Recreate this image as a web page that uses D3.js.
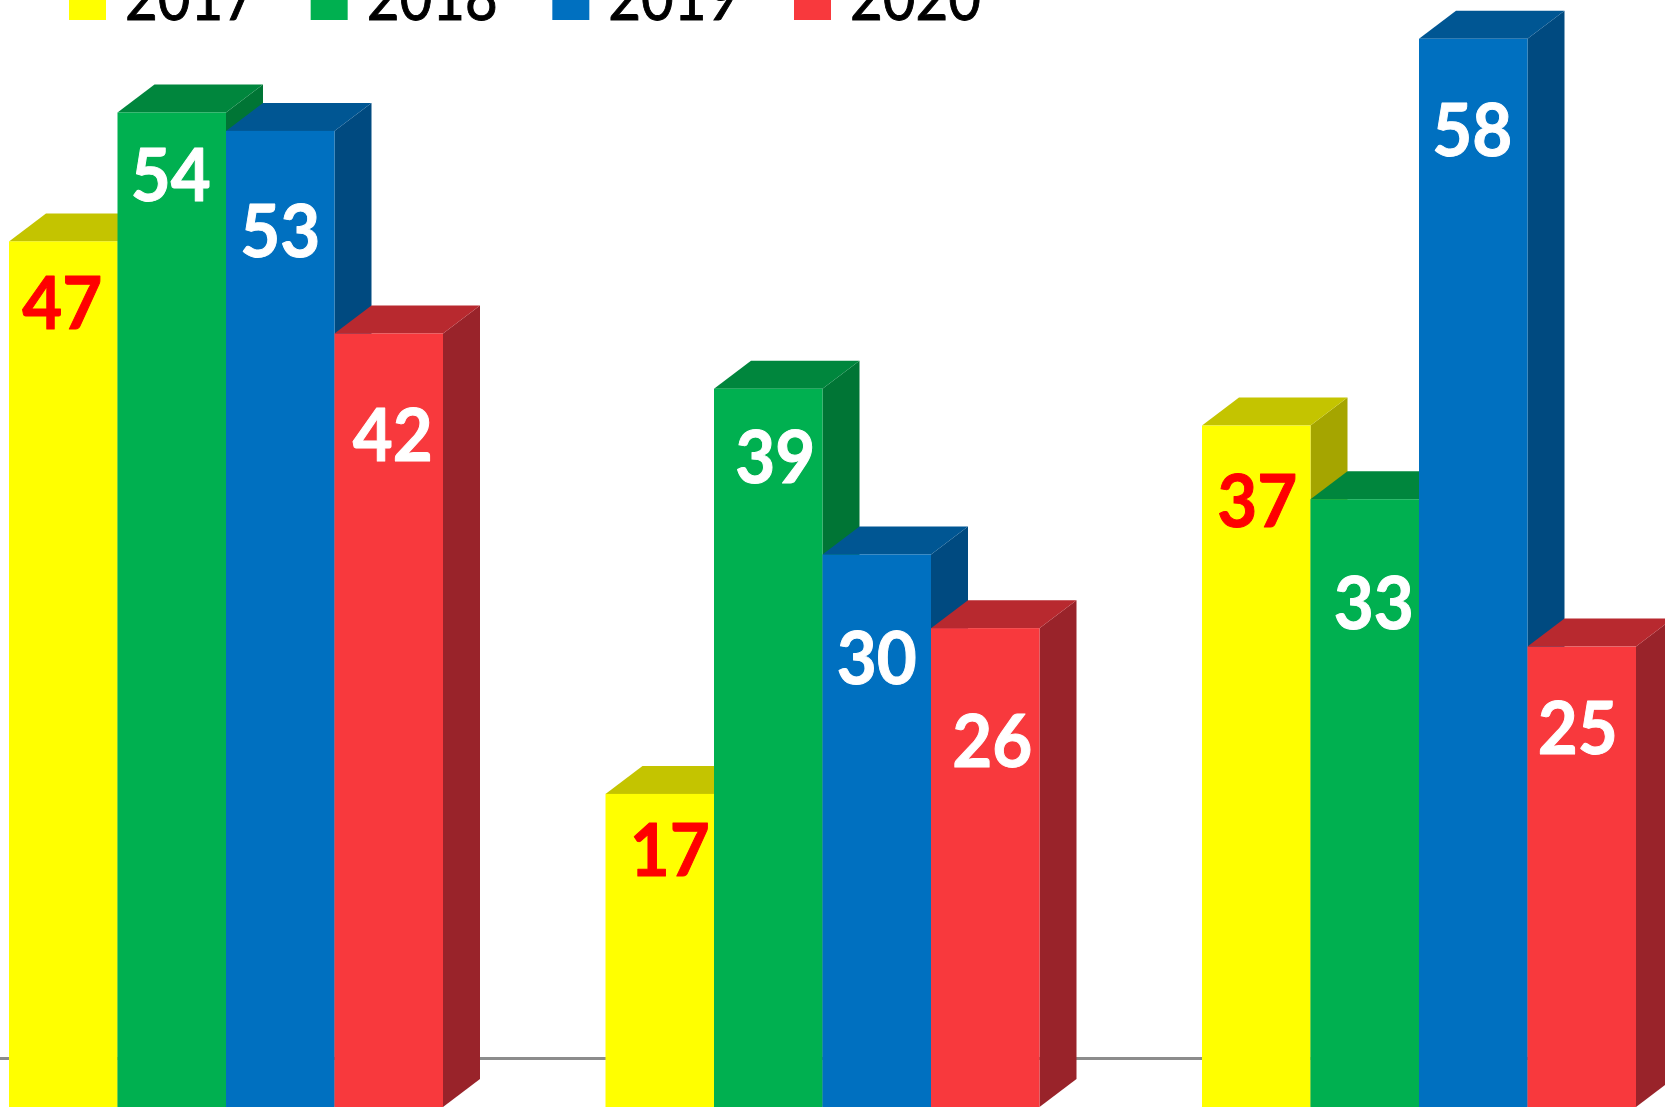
<!DOCTYPE html>
<html><head><meta charset="utf-8">
<script src="https://cdn.jsdelivr.net/npm/d3@7/dist/d3.min.js"></script>
<style>html,body{margin:0;padding:0;background:#fff;overflow:hidden}svg{display:block}</style>
</head><body><div id="c"></div>
<script>
// ---- data ----
const categories = ["A", "B", "C"];
const seriesNames = ["2017", "2018", "2019", "2020"];
const values2017 = [47, 17, 37];
const values2018 = [54, 39, 33];
const values2019 = [53, 30, 58];
const values2020 = [42, 26, 25];
const allValues = [values2017, values2018, values2019, values2020];

// ---- styles ----
const frontColors = ["#FFFF00", "#00B050", "#0070C0", "#F8393D"];
const topColors   = ["#C4C400", "#00863D", "#005693", "#B8292F"];
const sideColors  = ["#A5A500", "#007535", "#004A80", "#99232A"];
const labelColors = ["#FF0000", "#FFFFFF", "#FFFFFF", "#FFFFFF"];

// ---- layout: hand-placed label offsets (px) per series, per category ----
const labelShiftX = [[-1, 10, 1], [-1, 7, 9], [0, 0, -1], [4, 7, -4]];
const labelShiftY = [[61.5, 56, 75], [62.5, 68, 104], [100, 104, 91], [102, 113, 81]];

const W = 1665, H = 1108, depthX = 37, depthY = 28;
const svg = d3.select("#c").append("svg").attr("width", W).attr("height", H).attr("viewBox", [0, 0, W, H]);

const x0 = d3.scalePoint().domain(categories).range([9, 1202]);
const barW = 108.5;
const x1 = d3.scaleBand().domain(seriesNames).range([0, barW * 4]);
const y = d3.scaleLinear().domain([0, 58]).range([1107, 38.8]);

// floor line
svg.append("line").attr("x1", 0).attr("x2", W).attr("y1", 1058.5).attr("y2", 1058.5)
  .attr("stroke", "#8c8c8c").attr("stroke-width", 3);

const line = d3.line();
categories.forEach((cat, ci) => {
  const g = svg.append("g").attr("class", "group");
  seriesNames.forEach((s, si) => {
    const v = allValues[si][ci];
    const l = x0(cat) + x1(s), r = l + x1.bandwidth(), t = y(v), b = y(0);
    const bar = g.append("g").attr("class", "bar");
    bar.append("path").attr("fill", sideColors[si])
      .attr("d", line([[r, t], [r + depthX, t - depthY], [r + depthX, b - depthY], [r, b]]) + "Z");
    bar.append("path").attr("fill", topColors[si])
      .attr("d", line([[l, t], [l + depthX, t - depthY], [r + depthX, t - depthY], [r, t]]) + "Z");
    bar.append("rect").attr("x", l).attr("y", t).attr("width", barW).attr("height", b - t).attr("fill", frontColors[si]);
  });
});
// labels on top of all bars
categories.forEach((cat, ci) => {
  seriesNames.forEach((s, si) => {
    const v = allValues[si][ci];
    svg.append("text")
      .attr("x", x0(cat) + x1(s) + barW / 2 + labelShiftX[si][ci])
      .attr("y", y(v) + labelShiftY[si][ci] + 26)
      .attr("text-anchor", "middle")
      .attr("font-family", "Lato")
      .attr("font-weight", 700)
      .attr("font-size", 72)
      .attr("textLength", 80)
      .attr("lengthAdjust", "spacingAndGlyphs")
      .attr("fill", labelColors[si])
      .attr("stroke", labelColors[si])
      .attr("stroke-width", 1)
      .attr("stroke-linejoin", "round")
      .text(v);
  });
});

// legend (cut off by the top edge, as in the reference)
const legendX = d3.scalePoint().domain(seriesNames).range([69, 794]);
seriesNames.forEach((s, si) => {
  svg.append("rect").attr("x", legendX(s)).attr("y", -17).attr("width", 37).attr("height", 37).attr("fill", frontColors[si]);
  svg.append("text").attr("x", legendX(s) + 56).attr("y", 20)
    .attr("font-family", "Lato").attr("font-size", 66)
    .attr("textLength", 131).attr("lengthAdjust", "spacingAndGlyphs")
    .attr("fill", "#000").attr("stroke", "#000").attr("stroke-width", 1).text(s);
});
</script></body></html>
